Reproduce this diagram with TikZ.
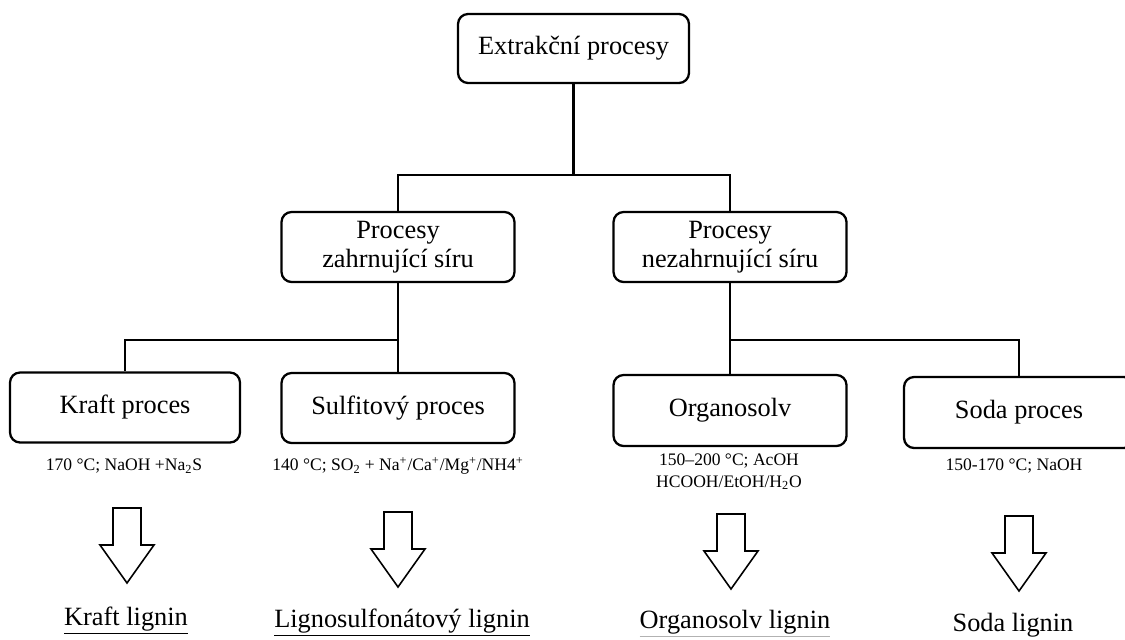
\documentclass[tikz,border=0pt]{standalone}
\usepackage{fontspec}
\setmainfont{Liberation Serif}
\usepackage{tikz}
\usetikzlibrary{calc}

\tikzset{
  procbox/.style={draw, line width=1.3pt, rounded corners=0.2cm, align=center,
    font=\fontsize{15}{16.5}\selectfont},
  cond/.style={align=center, font=\fontsize{10}{12}\selectfont},
  lignin/.style={font=\fontsize{15}{18}\selectfont},
  link/.style={line width=1.3pt},
  blockarrow/.style={draw, fill=white, line width=0.9pt, line join=miter}
}
\newcommand{\ulgray}[1]{\textcolor{gray!60}{\underline{\textcolor{black}{#1}}}}

\begin{document}
\begin{tikzpicture}[x=0.02cm, y=-0.02cm]
\useasboundingbox (0,0) rectangle (1125,639);

\node[procbox, minimum width=4.62cm, minimum height=1.38cm] (extr) at (573.5,48.5) {Extrakční procesy};
\node[procbox, minimum width=4.66cm, minimum height=1.4cm] (sira) at (398,247) {Procesy\\zahrnující síru};
\node[procbox, minimum width=4.66cm, minimum height=1.4cm] (nesira) at (730,247) {Procesy\\nezahrnující síru};

\node[procbox, minimum width=4.6cm, minimum height=1.4cm] (kraft) at (125,407.5) {Kraft proces};
\node[procbox, minimum width=4.66cm, minimum height=1.4cm] (sulfit) at (398,408) {Sulfitový proces};
\node[procbox, minimum width=4.66cm, minimum height=1.42cm] (organo) at (730,410.5) {Organosolv};
\node[procbox, minimum width=4.6cm, minimum height=1.42cm] (soda) at (1019,412.5) {Soda proces};

\coordinate (j1) at (573.5,175);
\coordinate (j2) at (398,340);
\coordinate (j3) at (730,340);

\draw[link] (extr) -- (j1);
\draw[link] (j1) -| (sira);
\draw[link] (j1) -| (nesira);
\draw[link] (sira) -- (sulfit);
\draw[link] (j2) -| (kraft);
\draw[link] (nesira) -- (organo);
\draw[link] (j3) -| (soda);

\node[cond] (kraftc) at (124,466) {170 °C; NaOH +Na\textsubscript{2}S};
\node[cond] (sulfitc) at (398,466) {140 °C; SO\textsubscript{2} + Na\textsuperscript{+}/Ca\textsuperscript{+}/Mg\textsuperscript{+}/NH4\textsuperscript{+}};
\node[cond] (organoc) at (729,472) {150–200 °C; AcOH\\HCOOH/EtOH/H\textsubscript{2}O};
\node[cond] (sodac) at (1014,466) {150-170 °C; NaOH};

\foreach \ax/\ay in {127/508, 398/512, 731/514, 1019/516}
  \draw[blockarrow] ({\ax-14},\ay) -- ({\ax+14},\ay) -- ({\ax+14},{\ay+37})
    -- ({\ax+27},{\ay+37}) -- (\ax,{\ay+75}) -- ({\ax-27},{\ay+37})
    -- ({\ax-14},{\ay+37}) -- cycle;

\node[lignin] (kraftl) at (126,621) {\underline{Kraft lignin}};
\node[lignin] (sulfitl) at (402,623) {\underline{Lignosulfonátový lignin}};
\node[lignin] (organol) at (735,624) {\ulgray{Organosolv lignin}};
\node[lignin] (sodal) at (1013,625) {Soda lignin};
\end{tikzpicture}
\end{document}
